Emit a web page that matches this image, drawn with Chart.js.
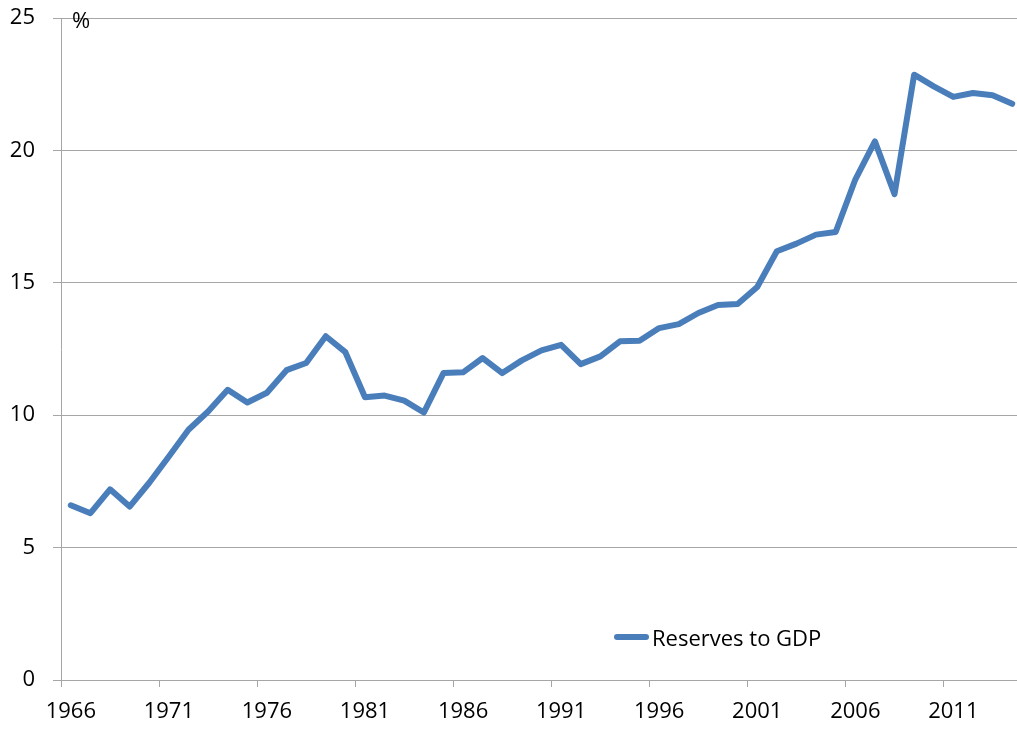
<!DOCTYPE html>
<html>
<head>
<meta charset="utf-8">
<script src="https://cdn.jsdelivr.net/npm/chart.js@4/dist/chart.umd.min.js"></script>
<style>
  html, body { margin: 0; padding: 0; overflow: hidden; background: #fff; }
  #wrap { position: relative; width: 1030px; height: 729px; }
  #unit { position: absolute; left: 72px; top: 4px; font-family: "Open Sans", sans-serif; font-size: 22px; color: #000; }
  #legend { position: absolute; left: 614px; top: 622px; height: 30px; display: flex; align-items: center;
            font-family: "Open Sans", sans-serif; font-size: 22px; color: #000; }
  #legend .swatch { display: inline-block; width: 35px; height: 6px; border-radius: 3px; background: #4a7ebb; margin-right: 3px; }
</style>
</head>
<body>
<div id="wrap">
  <canvas id="c" width="1030" height="729"></canvas>
  <div id="unit">%</div>
  <div id="legend"><span class="swatch"></span><span id="legendText"></span></div>
</div>
<script>
const years = [];
for (let y = 1966; y <= 2014; y++) years.push(String(y));

const seriesLabel = "Reserves to GDP";
const reservesToGDP = [
  6.6, 6.3, 7.2, 6.55, 7.45, 8.44, 9.45, 10.14, 10.96, 10.48,
  10.85, 11.7, 11.97, 12.98, 12.38, 10.68, 10.74, 10.55, 10.1, 11.59,
  11.62, 12.16, 11.59, 12.07, 12.45, 12.66, 11.93, 12.22, 12.79, 12.81,
  13.29, 13.44, 13.86, 14.16, 14.2, 14.84, 16.19, 16.48, 16.82, 16.92,
  18.9, 20.34, 18.35, 22.86, 22.42, 22.02, 22.17, 22.08, 21.76
];
const yTicks = [0, 5, 10, 15, 20, 25];

document.getElementById('legendText').textContent = seriesLabel;

const gridColor = '#a6a6a6';
const font = { family: '"Open Sans", sans-serif', size: 22 };

new Chart(document.getElementById('c'), {
  type: 'line',
  data: {
    labels: years,
    datasets: [{
      label: seriesLabel,
      data: reservesToGDP,
      borderColor: '#4a7ebb',
      backgroundColor: '#4a7ebb',
      borderWidth: 6,
      pointRadius: 0,
      borderJoinStyle: 'round',
      borderCapStyle: 'round',
      tension: 0,
      fill: false
    }]
  },
  options: {
    responsive: false,
    animation: false,
    devicePixelRatio: 1,
    layout: { padding: { left: 0, right: 8, top: 18, bottom: 0 } },
    plugins: { legend: { display: false }, tooltip: { enabled: false } },
    scales: {
      x: {
        type: 'category',
        offset: true,
        grid: {
          offset: true,
          drawOnChartArea: false,
          drawTicks: true,
          tickLength: 7,
          tickWidth: 1,
          tickColor: (ctx) => (ctx.index % 5 === 0 ? gridColor : 'rgba(0,0,0,0)')
        },
        border: { display: true, color: gridColor, width: 1 },
        ticks: {
          autoSkip: false,
          maxRotation: 0,
          minRotation: 0,
          padding: 12,
          color: '#000',
          font: font,
          callback: function (val, idx) { return idx % 5 === 0 ? this.getLabelForValue(val) : ''; }
        },
        afterFit: (scale) => { scale.height = 49; scale.paddingLeft = 0; scale.paddingRight = 0; }
      },
      y: {
        min: 0,
        max: 25,
        afterBuildTicks: (scale) => { scale.ticks = yTicks.map(v => ({ value: v })); },
        grid: {
          color: gridColor,
          lineWidth: 1,
          drawTicks: true,
          tickLength: 8
        },
        border: { display: true, color: gridColor, width: 1 },
        ticks: {
          padding: 18,
          color: '#000',
          font: font
        },
        afterFit: (scale) => { scale.width = 61; scale.paddingTop = 0; scale.paddingBottom = 0; }
      }
    }
  }
});
</script>
</body>
</html>
